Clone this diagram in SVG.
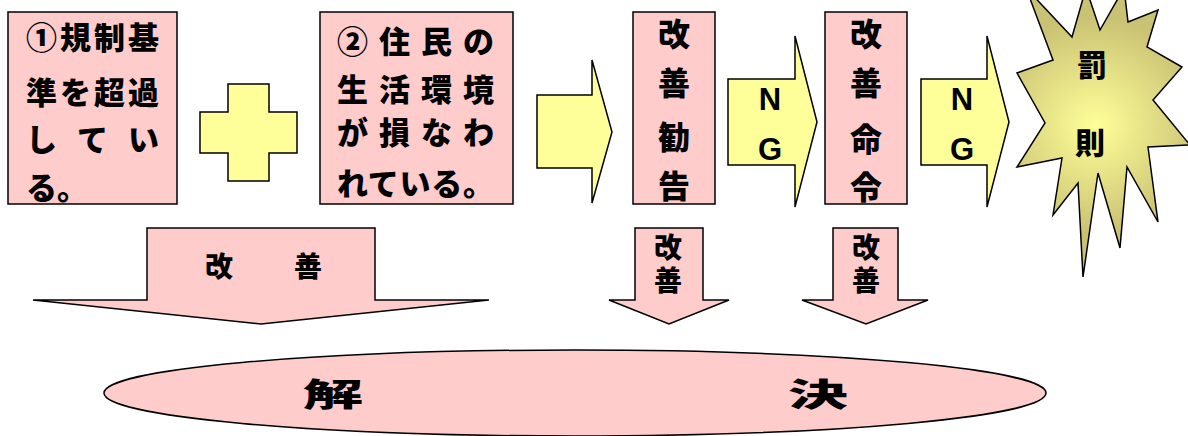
<svg xmlns="http://www.w3.org/2000/svg" width="1188" height="436" viewBox="0 0 1188 436">
<defs>
<radialGradient id="burst" cx="1095" cy="125" r="110" gradientUnits="userSpaceOnUse">
<stop offset="0" stop-color="#FFFF99"/>
<stop offset="1" stop-color="#C9C173"/>
</radialGradient>
<style>
.pink{fill:#FFCCCC;stroke:#000;stroke-width:1.5}
.yel{fill:#FFFF99;stroke:#000;stroke-width:1.5}
.jp{font-family:"Noto Sans CJK JP","Noto Sans CJK SC",sans-serif;font-weight:900;fill:#000}
.en{font-family:"Liberation Sans",Arial,sans-serif;font-weight:700;fill:#000}
.vt{writing-mode:vertical-rl;letter-spacing:5px}
</style>
</defs>
<rect width="1188" height="436" fill="#fff"/>

<g id="node-kijun">
<rect class="pink" x="8" y="12" width="169" height="192"/>
<text class="jp" font-size="31" x="26" y="49" textLength="133" lengthAdjust="spacing">①規制基</text>
<text class="jp" font-size="31" x="26" y="104" textLength="133" lengthAdjust="spacing">準を超過</text>
<text class="jp" font-size="31" x="26" y="151" textLength="133" lengthAdjust="spacing">し て い</text>
<text class="jp" font-size="31" x="26" y="199">る。</text>
</g>

<g id="node-plus">
<polygon class="yel" points="228,84 269,84 269,112 297,112 297,153 269,153 269,181 228,181 228,153 200,153 200,112 228,112"/>
</g>

<g id="node-seikatsu">
<rect class="pink" x="320" y="12" width="193" height="192"/>
<text class="jp" font-size="31" x="337" y="53" textLength="157" lengthAdjust="spacing">②住民の</text>
<text class="jp" font-size="31" x="337" y="101" textLength="157" lengthAdjust="spacing">生活環境</text>
<text class="jp" font-size="31" x="337" y="144" textLength="157" lengthAdjust="spacing">が損なわ</text>
<text class="jp" font-size="31" x="337" y="195" textLength="157" lengthAdjust="spacing">れている。</text>
</g>

<g id="node-kankoku">
<rect class="pink" x="633" y="12" width="82" height="192"/>
<text class="jp" font-size="32" x="674" y="46" text-anchor="middle">改</text>
<text class="jp" font-size="32" x="674" y="95" text-anchor="middle">善</text>
<text class="jp" font-size="32" x="674" y="149" text-anchor="middle">勧</text>
<text class="jp" font-size="32" x="674" y="198" text-anchor="middle">告</text>
</g>

<g id="node-meirei">
<rect class="pink" x="825" y="12" width="82" height="192"/>
<text class="jp" font-size="32" x="866" y="46" text-anchor="middle">改</text>
<text class="jp" font-size="32" x="866" y="95" text-anchor="middle">善</text>
<text class="jp" font-size="32" x="866" y="151" text-anchor="middle">命</text>
<text class="jp" font-size="32" x="866" y="199" text-anchor="middle">令</text>
</g>

<g id="node-bassoku">
<polygon fill="url(#burst)" stroke="#000" stroke-width="1.5" points="1128,22 1158,10 1147,47 1182,67 1153,100 1190,145 1148,147 1158,222 1127,167 1120,248 1098,173 1083,277 1078,183 1053,215 1062,158 1017,167 1045,123 1017,73 1053,60 1026,-12 1072,37 1086,-12 1100,30 1124,-12"/>
<text class="jp" font-size="30" x="1092" y="76" text-anchor="middle">罰</text>
<text class="jp" font-size="30" x="1090" y="154" text-anchor="middle">則</text>
</g>

<g id="node-kaiketsu">
<ellipse class="pink" cx="575" cy="393" rx="471" ry="43"/>
<text class="jp" font-size="32" x="303" y="406" textLength="60" lengthAdjust="spacingAndGlyphs">解</text>
<text class="jp" font-size="32" x="788" y="406" textLength="60" lengthAdjust="spacingAndGlyphs">決</text>
</g>

<g id="connectors">
<g id="arrow-main">
<polygon class="yel" points="537,95 592,95 592,60 612,132 592,203 592,168 537,168"/>
</g>
<g id="arrow-ng1">
<polygon class="yel" points="728,79 795,79 795,36 817,122 795,207 795,165 728,165"/>
<text class="en" font-size="31" x="770" y="110" text-anchor="middle">N</text>
<text class="en" font-size="31" x="770" y="160" text-anchor="middle">G</text>
</g>
<g id="arrow-ng2">
<polygon class="yel" points="921,79 987,79 987,36 1009,122 987,207 987,165 921,165"/>
<text class="en" font-size="31" x="962" y="110" text-anchor="middle">N</text>
<text class="en" font-size="31" x="962" y="160" text-anchor="middle">G</text>
</g>
<g id="arrow-kaizen-main">
<polygon class="pink" points="147,228 375,228 375,300 489,300 261,324 33,300 147,300"/>
<text class="jp" font-size="28" x="219" y="277" text-anchor="middle">改</text>
<text class="jp" font-size="28" x="308" y="277" text-anchor="middle">善</text>
</g>
<g id="arrow-kaizen-1">
<polygon class="pink" points="635,228 703,228 703,300 729,300 669,324 609,300 635,300"/>
<text class="jp vt" font-size="28" x="668" y="233">改善</text>
</g>
<g id="arrow-kaizen-2">
<polygon class="pink" points="833,228 898,228 898,300 928,300 866,324 802,300 833,300"/>
<text class="jp vt" font-size="28" x="866" y="233">改善</text>
</g>
</g>
</svg>
